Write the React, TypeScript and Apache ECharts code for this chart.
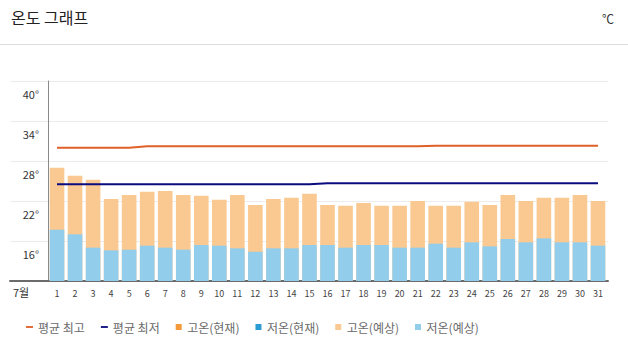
import React, { useEffect, useRef } from "react";
import * as echarts from "echarts";

const days = Array.from({ length: 31 }, (_, i) => String(i + 1));
const yTicks = [10, 16, 22, 28, 34, 40];
const avgHigh = [30.0, 30.0, 30.0, 30.0, 30.0, 30.2, 30.2, 30.2, 30.2, 30.2, 30.2, 30.2, 30.2, 30.2, 30.2, 30.2, 30.2, 30.2, 30.2, 30.2, 30.2, 30.3, 30.3, 30.3, 30.3, 30.3, 30.3, 30.3, 30.3, 30.3, 30.3];
const avgLow = [24.5, 24.5, 24.5, 24.5, 24.5, 24.5, 24.5, 24.5, 24.5, 24.5, 24.5, 24.5, 24.5, 24.5, 24.5, 24.65, 24.65, 24.65, 24.65, 24.65, 24.65, 24.65, 24.65, 24.65, 24.65, 24.65, 24.65, 24.65, 24.65, 24.65, 24.65];
const highNow: (number | string)[] = days.map(() => "-");
const lowNow: (number | string)[] = days.map(() => "-");
const highFcst = [27.0, 25.8, 25.2, 22.3, 22.9, 23.4, 23.5, 22.9, 22.8, 22.2, 22.9, 21.4, 22.3, 22.5, 23.1, 21.4, 21.3, 21.7, 21.3, 21.3, 22.0, 21.3, 21.3, 21.9, 21.4, 22.9, 22.0, 22.5, 22.5, 22.9, 22.0];
const lowFcst = [17.7, 17.0, 15.0, 14.6, 14.7, 15.3, 15.0, 14.7, 15.4, 15.3, 14.9, 14.4, 14.9, 14.9, 15.4, 15.4, 15.0, 15.4, 15.4, 15.0, 15.0, 15.6, 15.0, 15.8, 15.2, 16.3, 15.8, 16.4, 15.8, 15.8, 15.3];

const FONT = "'Noto Sans CJK KR', 'Noto Sans', sans-serif";
const LINE_ICON = "path://M0,0H10V2.6H0Z";
const SQ_ICON = "path://M0,0H10V10H0Z";

export default function App() {
  const ref = useRef<HTMLDivElement>(null);
  useEffect(() => {
    if (!ref.current) return;
    const chart = echarts.init(ref.current, undefined, { renderer: "svg" });
    const barCommon = {
      type: "bar",
      xAxisIndex: 1,
      yAxisIndex: 1,
      barWidth: "81%",
      barGap: "-100%",
    };
    chart.setOption({
      animation: false,
      backgroundColor: "#fff",
      textStyle: { fontFamily: FONT },
      graphic: [
        { type: "text", left: 11, top: 9, style: { text: "온도 그래프", fontSize: 16, fill: "#222", fontFamily: FONT } },
        { type: "text", right: 14, top: 12, style: { text: "℃", fontSize: 12, fill: "#333", fontFamily: FONT } },
        { type: "line", shape: { x1: 0, y1: 44.5, x2: 628, y2: 44.5 }, style: { stroke: "#dcdcdc", lineWidth: 1 } },
        { type: "text", left: 13, top: 286, style: { text: "7월", fontSize: 11, fill: "#333", fontFamily: FONT } },
      ],
      legend: {
        left: 21,
        top: 316,
        itemWidth: 7,
        itemHeight: 6,
        itemGap: 16,
        textStyle: { fontSize: 12, color: "#6a6a6a", fontFamily: FONT },
        data: [
          { name: "평균 최고", icon: LINE_ICON },
          { name: "평균 최저", icon: LINE_ICON },
          { name: "고온(현재)", icon: SQ_ICON },
          { name: "저온(현재)", icon: SQ_ICON },
          { name: "고온(예상)", icon: SQ_ICON },
          { name: "저온(예상)", icon: SQ_ICON },
        ],
      },
      grid: [
        { left: 10, right: 20, top: 81, bottom: 70 },
        { left: 48, right: 21, top: 81, bottom: 70 },
      ],
      xAxis: [
        {
          gridIndex: 0,
          type: "value",
          min: 0,
          max: 1,
          axisLine: { show: true, onZero: false, lineStyle: { color: "#6b6b6b", width: 2 } },
          axisTick: { show: false },
          axisLabel: { show: false },
          splitLine: { show: false },
        },
        {
          gridIndex: 1,
          type: "category",
          data: days,
          axisLine: { show: false },
          axisTick: { show: false },
          axisLabel: { fontSize: 9, color: "#444", margin: 8, interval: 0, fontFamily: FONT },
        },
      ],
      yAxis: [
        {
          gridIndex: 0,
          type: "value",
          min: yTicks[0],
          max: yTicks[yTicks.length - 1],
          interval: 6,
          axisLine: { show: false },
          axisTick: { show: false },
          axisLabel: { show: false },
          splitLine: { show: true, lineStyle: { color: "#ececec", width: 1 } },
        },
        {
          gridIndex: 1,
          type: "value",
          min: yTicks[0],
          max: yTicks[yTicks.length - 1],
          interval: 6,
          axisLine: { show: true, lineStyle: { color: "#8a8a8a", width: 1 } },
          axisTick: { show: false },
          splitLine: { show: false },
          axisLabel: {
            fontSize: 11,
            color: "#333",
            margin: 9,
            verticalAlign: "top",
            padding: [8, 0, 0, 0],
            fontFamily: FONT,
            formatter: (v: number) => (v === yTicks[0] ? "" : v + "°"),
          },
        },
      ],
      series: [
        { ...barCommon, name: "고온(현재)", data: highNow, itemStyle: { color: "#f59a3b" } },
        { ...barCommon, name: "저온(현재)", data: lowNow, itemStyle: { color: "#2b9bd4" } },
        { ...barCommon, name: "고온(예상)", data: highFcst, itemStyle: { color: "#f9c991" } },
        { ...barCommon, name: "저온(예상)", data: lowFcst, itemStyle: { color: "#93cdec" } },
        {
          type: "line",
          name: "평균 최고",
          xAxisIndex: 1,
          yAxisIndex: 1,
          data: avgHigh,
          symbol: "none",
          itemStyle: { color: "#e0602a" },
          lineStyle: { color: "#e0602a", width: 2 },
          z: 5,
        },
        {
          type: "line",
          name: "평균 최저",
          xAxisIndex: 1,
          yAxisIndex: 1,
          data: avgLow,
          symbol: "none",
          itemStyle: { color: "#0b0b80" },
          lineStyle: { color: "#0b0b80", width: 2 },
          z: 5,
        },
      ],
    });
    return () => chart.dispose();
  }, []);
  return <div ref={ref} style={{ position: "fixed", left: 0, top: 0, width: 628, height: 351 }} />;
}
